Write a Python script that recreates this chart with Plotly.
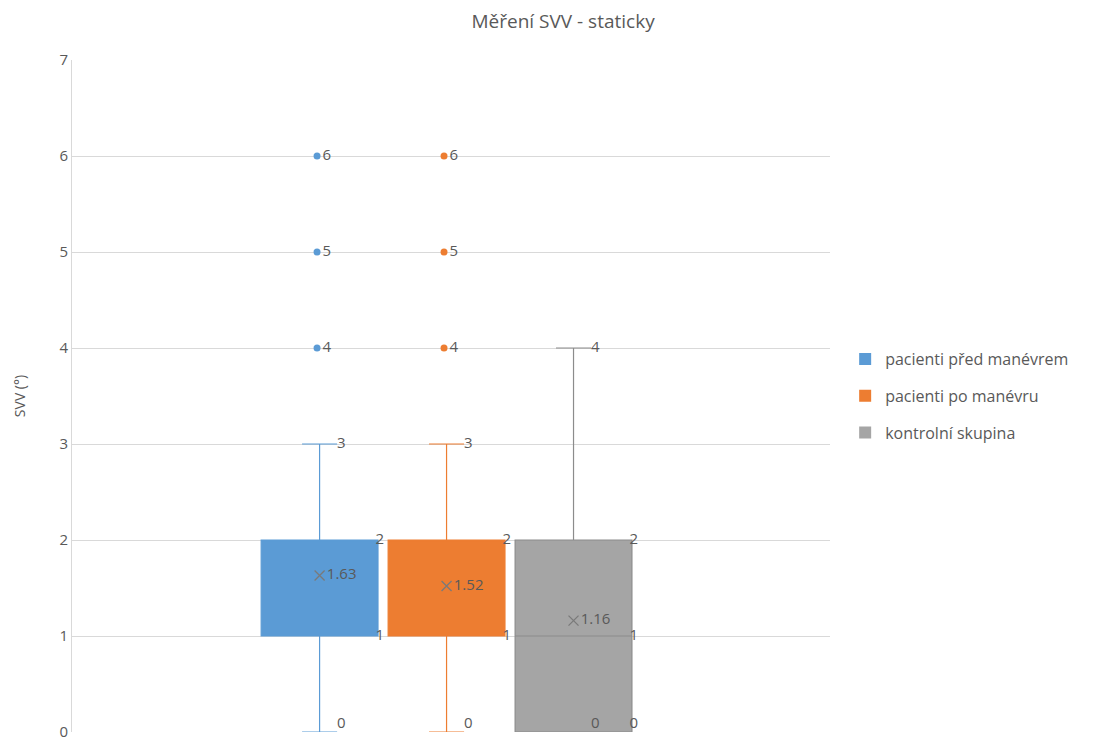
import plotly.graph_objects as go

# Box-plot statistics per group
groups = ["pacienti před manévrem", "pacienti po manévru", "kontrolní skupina"]
q1 = [1, 1, 0]
median = [2, 2, 1]
q3 = [2, 2, 2]
lower_fence = [0, 0, 0]
upper_fence = [3, 3, 4]
means = [1.63, 1.52, 1.16]
outliers = [[4, 5, 6], [4, 5, 6], []]

fill_colors = ["#5B9BD5", "#ED7D31", "#A5A5A5"]
line_colors = ["#5B9BD5", "#ED7D31", "#8C8C8C"]

TEXT = "#595959"
FONT = "Open Sans"
BOX_W = 0.92
WHISKER = 0.3

fig = go.Figure()

for i, name in enumerate(groups):
    x0 = i
    fig.add_trace(go.Box(
        x=[x0], q1=[q1[i]], median=[median[i]], q3=[q3[i]],
        lowerfence=[lower_fence[i]], upperfence=[upper_fence[i]],
        orientation="v",
        width=BOX_W, whiskerwidth=WHISKER,
        fillcolor=fill_colors[i],
        marker=dict(color=line_colors[i]),
        line=dict(color=line_colors[i], width=1.2),
        boxpoints=False, showlegend=False, hoverinfo="skip",
    ))

labels_x, labels_y, labels_t, labels_p = [], [], [], []

for i, name in enumerate(groups):
    x0 = i
    # outliers
    if outliers[i]:
        fig.add_trace(go.Scatter(
            x=[x0 - 0.02] * len(outliers[i]), y=outliers[i],
            mode="markers+text",
            marker=dict(color=fill_colors[i], size=7),
            text=[str(v) for v in outliers[i]],
            textposition="middle right",
            textfont=dict(color=TEXT, size=15, family=FONT),
            showlegend=False, hoverinfo="skip", cliponaxis=False,
        ))

    # whisker end labels
    for v in (lower_fence[i], upper_fence[i]):
        labels_x.append(x0 + WHISKER * BOX_W / 2)
        labels_y.append(v)
        labels_t.append(str(v))
        labels_p.append("top right" if v == 0 else "middle right")

    # quartile / median labels on the box edge
    for v in sorted(set([q1[i], median[i], q3[i]])):
        labels_x.append(x0 + BOX_W / 2 - 0.02)
        labels_y.append(v)
        labels_t.append(str(v))
        labels_p.append("top right" if v == 0 else "middle right")

fig.add_trace(go.Scatter(
    x=labels_x, y=labels_y, mode="text", text=labels_t, textposition=labels_p,
    textfont=dict(color=TEXT, size=15, family=FONT),
    showlegend=False, hoverinfo="skip", cliponaxis=False,
))

# mean markers
fig.add_trace(go.Scatter(
    x=list(range(len(groups))), y=means, mode="markers+text",
    marker=dict(symbol="x-thin", size=10, color="#7A7A7A",
                line=dict(color="#7A7A7A", width=1.3)),
    text=[f"{m:.2f}" for m in means], textposition="middle right",
    textfont=dict(color=TEXT, size=15, family=FONT),
    showlegend=False, hoverinfo="skip", cliponaxis=False,
))

# legend entries with square swatches
for i, name in enumerate(groups):
    fig.add_trace(go.Scatter(
        x=[None], y=[None], mode="markers", name=name, legendgroup=f"g{i}",
        marker=dict(symbol="square", size=13, color=fill_colors[i]),
    ))

fig.update_layout(
    width=1115, height=740,
    margin=dict(l=72, r=285, t=60, b=8, autoexpand=False),
    paper_bgcolor="white", plot_bgcolor="white",
    title=dict(text="Měření SVV - staticky", x=0.505, y=0.98, xanchor="center",
               font=dict(family=FONT, size=19, color=TEXT)),
    font=dict(family=FONT, color=TEXT),
    xaxis=dict(range=[-1.95, 4.02], showticklabels=False, showgrid=False,
               zeroline=False, showline=False, fixedrange=True, automargin=False),
    yaxis=dict(range=[0, 7], dtick=1, showgrid=True, gridcolor="#D9D9D9", gridwidth=1,
               zeroline=False, showline=True, linecolor="#D9D9D9", linewidth=1,
               ticks="", ticklabeloverflow="allow", automargin=False,
               tickfont=dict(size=15, color=TEXT, family=FONT),
               title=dict(text="SVV (°)", font=dict(size=14, color=TEXT, family=FONT), standoff=30)),
    legend=dict(x=1.02, y=0.5, xanchor="left", yanchor="middle",
                font=dict(size=16, color=TEXT, family=FONT),
                itemsizing="constant", tracegroupgap=13, itemwidth=30),
    showlegend=True,
)

fig.write_html("out.html")
